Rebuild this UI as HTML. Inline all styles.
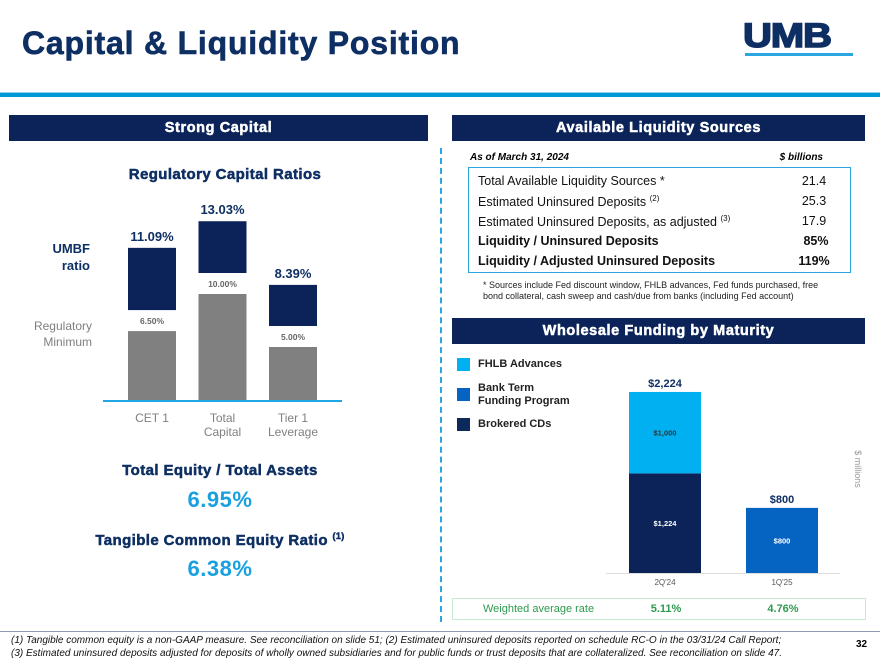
<!DOCTYPE html>
<html><head><meta charset="utf-8"><style>
body{margin:0;width:880px;height:660px;position:relative;background:#fff;font-family:"Liberation Sans",Arial,sans-serif;overflow:hidden}
.a{position:absolute}
.hdr{position:absolute;background:#0b2358;color:#fff;font-weight:bold;font-size:14.5px;text-align:center;line-height:26px;height:26px;letter-spacing:.6px;-webkit-text-stroke:.5px #fff}
.nv{color:#0e2f63}
.hv{-webkit-text-stroke:.5px #0e2f63;letter-spacing:.4px}
</style></head><body>
<div class="a nv" style="left:22px;top:25px;font-size:32px;font-weight:bold;letter-spacing:.8px;-webkit-text-stroke:.6px #0e2f63">Capital &amp; Liquidity Position</div>
<div class="a nv" style="left:743px;top:18px;font-size:34px;font-weight:bold;line-height:36px;transform:scaleX(1.18);transform-origin:left;-webkit-text-stroke:1.5px #0e2f63;letter-spacing:-1px">UMB</div>
<div class="a" style="left:745px;top:53px;width:108px;height:3px;background:#2aa6e0"></div>
<div class="a" style="left:0;top:92px;width:880px;height:1px;background:#8fd0ef"></div>
<div class="a" style="left:0;top:93px;width:880px;height:4px;background:#0099d8"></div>

<div class="hdr" style="left:9px;top:115px;width:419px">Strong Capital</div>
<div class="hdr" style="left:452px;top:115px;width:413px">Available Liquidity Sources</div>

<div class="a nv hv" style="left:100px;top:166px;width:250px;text-align:center;font-size:15px;font-weight:bold">Regulatory Capital Ratios</div>
<div class="a nv" style="left:20px;top:240px;width:70px;text-align:right;font-size:13px;font-weight:bold;line-height:17px">UMBF<br>ratio</div>
<div class="a" style="left:10px;top:318px;width:82px;text-align:right;font-size:12px;color:#7f7f7f;line-height:16px">Regulatory<br>Minimum</div>
<svg class="a" style="left:0;top:0" width="440" height="450" id="cap"></svg>

<div class="a nv hv" style="left:60px;top:462px;width:320px;text-align:center;font-size:15px;font-weight:bold">Total Equity / Total Assets</div>
<div class="a" style="left:60px;top:487px;width:320px;text-align:center;font-size:22px;font-weight:bold;color:#18a0e0;letter-spacing:.5px">6.95%</div>
<div class="a nv hv" style="left:60px;top:531px;width:320px;text-align:center;font-size:15px;font-weight:bold">Tangible Common Equity Ratio <sup style="font-size:9px">(1)</sup></div>
<div class="a" style="left:60px;top:556px;width:320px;text-align:center;font-size:22px;font-weight:bold;color:#18a0e0;letter-spacing:.5px">6.38%</div>

<div class="a" style="left:440px;top:148px;height:474px;border-left:2px dashed #2aa6e0"></div>

<div class="a" style="left:470px;top:152px;font-size:10px;font-weight:bold;font-style:italic">As of March 31, 2024</div>
<div class="a" style="left:760px;top:152px;width:63px;text-align:right;font-size:10px;font-weight:bold;font-style:italic">$ billions</div>
<div class="a" style="left:468px;top:167px;width:381px;height:104px;border:1.5px solid #2aa6e0;font-size:12.5px;color:#111">
 <div class="a" style="left:9px;top:6px">Total Available Liquidity Sources *</div><div class="a" style="left:320px;width:50px;text-align:center;top:6px">21.4</div>
 <div class="a" style="left:9px;top:26px">Estimated Uninsured Deposits <sup style="font-size:8px">(2)</sup></div><div class="a" style="left:320px;width:50px;text-align:center;top:26px">25.3</div>
 <div class="a" style="left:9px;top:46px">Estimated Uninsured Deposits, as adjusted <sup style="font-size:8px">(3)</sup></div><div class="a" style="left:320px;width:50px;text-align:center;top:46px">17.9</div>
 <div class="a" style="left:9px;top:66px;font-weight:bold">Liquidity / Uninsured Deposits</div><div class="a" style="left:322px;width:50px;text-align:center;top:66px;font-weight:bold">85%</div>
 <div class="a" style="left:9px;top:86px;font-weight:bold">Liquidity / Adjusted Uninsured Deposits</div><div class="a" style="left:320px;width:50px;text-align:center;top:86px;font-weight:bold">119%</div>
</div>
<div class="a" style="left:483px;top:280px;width:350px;font-size:9px;line-height:11px;color:#222">* Sources include Fed discount window, FHLB advances, Fed funds purchased, free bond collateral, cash sweep and cash/due from banks (including Fed account)</div>

<div class="hdr" style="left:452px;top:318px;width:413px">Wholesale Funding by Maturity</div>

<div class="a" style="left:457px;top:358px;width:13px;height:13px;background:#00b0f0"></div>
<div class="a" style="left:478px;top:358px;font-size:11px;font-weight:bold;color:#222">FHLB Advances</div>
<div class="a" style="left:457px;top:388px;width:13px;height:13px;background:#0563c1"></div>
<div class="a" style="left:478px;top:382px;font-size:11px;font-weight:bold;color:#222;line-height:13px">Bank Term<br>Funding Program</div>
<div class="a" style="left:457px;top:418px;width:13px;height:13px;background:#0b2a5b"></div>
<div class="a" style="left:478px;top:418px;font-size:11px;font-weight:bold;color:#222">Brokered CDs</div>
<svg class="a" style="left:0;top:0" width="880" height="600" id="wf"></svg>
<div class="a" style="left:828px;top:464px;width:60px;font-size:9px;color:#999;transform:rotate(90deg);text-align:center">$ millions</div>

<div class="a" style="left:452px;top:598px;width:412px;height:20px;border:1px solid #c6e9d2;color:#2e9a4f;font-size:11px;line-height:20px">
 <span class="a" style="left:30px">Weighted average rate</span>
 <span class="a" style="left:183px;width:60px;text-align:center;font-weight:bold">5.11%</span>
 <span class="a" style="left:300px;width:60px;text-align:center;font-weight:bold">4.76%</span>
</div>

<div class="a" style="left:0;top:631px;width:880px;height:1px;background:#8d9bb5"></div>
<div class="a" style="left:11px;top:634px;font-size:10px;font-style:italic;line-height:13px;color:#111;white-space:nowrap">(1) Tangible common equity is a non-GAAP measure. See reconciliation on slide 51; (2) Estimated uninsured deposits reported on schedule RC-O in the 03/31/24 Call Report;<br>(3) Estimated uninsured deposits adjusted for deposits of wholly owned subsidiaries and for public funds or trust deposits that are collateralized. See reconciliation on slide 47.</div>
<div class="a" style="left:856px;top:639px;font-size:10px;font-weight:bold">32</div>

<script>
const capCategories=[["CET 1"],["Total","Capital"],["Tier 1","Leverage"]];
const umbfRatio=[11.09,13.03,8.39];
const regMinimum=[6.50,10.00,5.00];
const wfCategories=["2Q'24","1Q'25"];
const brokeredCDs=[1224,0];
const btfp=[0,800];
const fhlb=[1000,0];
const NS="http://www.w3.org/2000/svg";
function mk(svg,tag,attrs,txt){const e=document.createElementNS(NS,tag);for(const k in attrs)e.setAttribute(k,attrs[k]);if(txt!=null)e.textContent=txt;svg.appendChild(e);return e;}
const cap=document.getElementById('cap');
const base=400, xs=i=>128+i*70.5, bw=48;
const yMin=v=>base-v*10.6, yTop=v=>base-v*13.72;
umbfRatio.forEach((v,i)=>{
  const x=xs(i),gt=yMin(regMinimum[i]),nb=gt-21,nt=yTop(v);
  let r=mk(cap,'rect',{x:x,y:gt,width:bw,height:base-gt,fill:'#808080'});
  
  
  r=mk(cap,'rect',{x:x,y:nt,width:bw,height:nb-nt,fill:'#0b2358'});
  
  
  let t=mk(cap,'text',{x:x+bw/2,y:nt-7,'text-anchor':'middle','font-size':13,'font-weight':'bold',fill:'#0e2f63'},v.toFixed(2)+'%');
  
  
  t=mk(cap,'text',{x:x+bw/2,y:gt-7,'text-anchor':'middle','font-size':8.5,'font-weight':'bold',fill:'#666'},regMinimum[i].toFixed(2)+'%');
  
  
  capCategories[i].forEach((s,j)=>{
    const c=mk(cap,'text',{x:x+bw/2,y:422+j*14,'text-anchor':'middle','font-size':12,fill:'#808080'},s);
    
    
  });
});
const ax=mk(cap,'line',{x1:103,x2:342,y1:base+1,y2:base+1,stroke:'#1ea7e4','stroke-width':2});


const wf=document.getElementById('wf');
const wb=573, wx=i=>629+i*117, ww=72, sc=0.0814;
const wy=v=>wb-v*sc;
const a2=mk(wf,'line',{x1:606,x2:840,y1:wb+0.5,y2:wb+0.5,stroke:'#ddd','stroke-width':1});


wfCategories.forEach((c,i)=>{
  let acc=0;const x=wx(i);
  [[brokeredCDs,'#0b2358','#fff'],[btfp,'#0563c1','#fff'],[fhlb,'#00b0f0','#333']].forEach(([arr,col,tc],k)=>{
    const v=arr[i]; if(!v)return;
    const y0=wy(acc),y1=wy(acc+v);
    const r=mk(wf,'rect',{x:x,y:y1,width:ww,height:y0-y1,fill:col});
    
    
    const t=mk(wf,'text',{x:x+ww/2,y:(y0+y1)/2+3,'text-anchor':'middle','font-size':7.5,'font-weight':'bold',fill:tc},'$'+v.toLocaleString('en-US'));
    
    
    acc+=v;
  });
  let t=mk(wf,'text',{x:x+ww/2,y:wy(acc)-5,'text-anchor':'middle','font-size':11,'font-weight':'bold',fill:'#0e2f63'},'$'+acc.toLocaleString('en-US'));
  
  
  t=mk(wf,'text',{x:x+ww/2,y:585,'text-anchor':'middle','font-size':8,fill:'#555'},c);
  
  
});
</script>
</body></html>
